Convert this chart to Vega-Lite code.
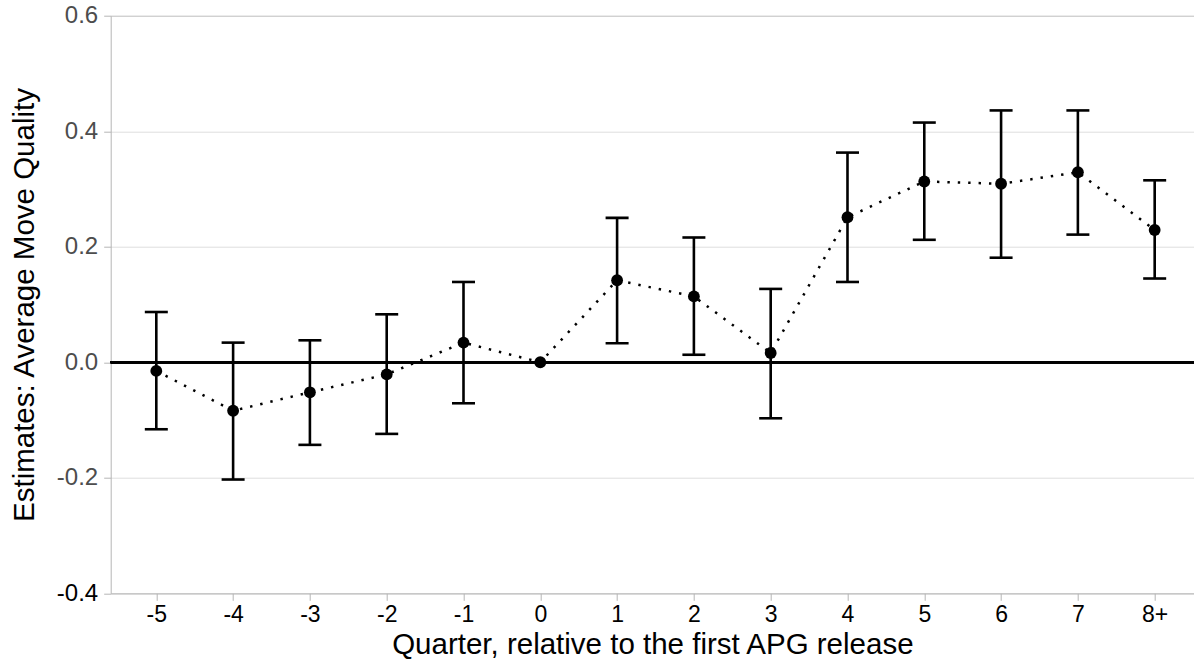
{
  "$schema": "https://vega.github.io/schema/vega-lite/v6.json",
  "autosize": {"type": "none"},
  "width": 1083.3,
  "height": 577.6,
  "padding": {"left": 110.7, "top": 15.7, "right": 0, "bottom": 70.7},
  "background": "white",
  "data": {
    "values": [
      {"q": "-5", "est": -0.015, "lo": -0.116, "hi": 0.087},
      {"q": "-4", "est": -0.084, "lo": -0.203, "hi": 0.034},
      {"q": "-3", "est": -0.052, "lo": -0.143, "hi": 0.038},
      {"q": "-2", "est": -0.021, "lo": -0.124, "hi": 0.083},
      {"q": "-1", "est": 0.034, "lo": -0.071, "hi": 0.139},
      {"q": "0", "est": 0.0, "lo": null, "hi": null},
      {"q": "1", "est": 0.142, "lo": 0.033, "hi": 0.250},
      {"q": "2", "est": 0.114, "lo": 0.013, "hi": 0.216},
      {"q": "3", "est": 0.016, "lo": -0.097, "hi": 0.127},
      {"q": "4", "est": 0.251, "lo": 0.139, "hi": 0.363},
      {"q": "5", "est": 0.313, "lo": 0.212, "hi": 0.415},
      {"q": "6", "est": 0.309, "lo": 0.181, "hi": 0.436},
      {"q": "7", "est": 0.329, "lo": 0.221, "hi": 0.436},
      {"q": "8+", "est": 0.229, "lo": 0.145, "hi": 0.315}
    ]
  },
  "encoding": {
    "x": {
      "field": "q",
      "type": "ordinal",
      "sort": null,
      "scale": {"type": "point", "domain": ["-5","-4","-3","-2","-1","0","1","2","3","4","5","6","7","8+"], "padding": 0.553, "align": 0.537},
      "axis": {
        "title": "Quarter, relative to the first APG release",
        "labelAngle": 0,
        "grid": false,
        "labelColor": "black",
        "labelFontSize": 23,
        "labelPadding": 3,
        "titlePadding": 4
      }
    },
    "y": {
      "field": "est",
      "type": "quantitative",
      "scale": {"domain": [-0.4, 0.6], "nice": false, "zero": false},
      "axis": {
        "title": "Estimates: Average Move Quality",
        "values": [-0.4, -0.2, 0, 0.2, 0.4, 0.6],
        "labelExpr": "replace(format(datum.value, '.1f'), '\u2212', '-')",
        "grid": true,
        "gridColor": {"condition": {"test": "datum.value == 0.6", "value": "#bdbdbd"}, "value": "#dedede"},
        "labelColor": {"condition": {"test": "datum.value == -0.4", "value": "black"}, "value": "#4d4d4d"},
        "labelFontSize": 24,
        "labelPadding": 6,
        "titlePadding": 17
      }
    }
  },
  "layer": [
    {
      "mark": {"type": "rule", "color": "black", "strokeWidth": 2},
      "encoding": {
        "x": null,
        "y": {"datum": 0, "type": "quantitative"}
      }
    },
    {
      "mark": {"type": "line", "color": "black", "strokeWidth": 2.5, "strokeDash": [2.4, 8], "interpolate": "linear"},
      "encoding": {}
    },
    {
      "transform": [{"filter": "datum.lo != null"}],
      "mark": {"type": "rule", "color": "black", "strokeWidth": 2.6},
      "encoding": {
        "y": {"field": "lo", "type": "quantitative"},
        "y2": {"field": "hi"}
      }
    },
    {
      "transform": [{"filter": "datum.lo != null"}],
      "mark": {"type": "tick", "color": "black", "orient": "horizontal", "size": 23, "thickness": 2.6, "opacity": 1},
      "encoding": {
        "y": {"field": "hi", "type": "quantitative"}
      }
    },
    {
      "transform": [{"filter": "datum.lo != null"}],
      "mark": {"type": "tick", "color": "black", "orient": "horizontal", "size": 23, "thickness": 2.6, "opacity": 1},
      "encoding": {
        "y": {"field": "lo", "type": "quantitative"}
      }
    },
    {
      "mark": {"type": "point", "filled": true, "color": "black", "size": 140, "opacity": 1},
      "encoding": {}
    }
  ],
  "config": {
    "view": {"stroke": null},
    "font": "Liberation Sans",
    "axis": {
      "labelFont": "Liberation Sans",
      "titleFont": "Liberation Sans",
      "titleFontSize": 29.5,
      "titleFontWeight": "normal",
      "titleColor": "black",
      "domainColor": "#b5b5b5",
      "tickColor": "#b5b5b5",
      "tickSize": 7
    }
  }
}
